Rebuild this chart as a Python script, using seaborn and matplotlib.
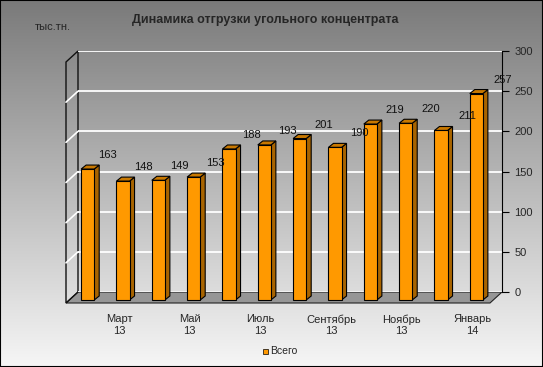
import numpy as np
import matplotlib
matplotlib.use("Agg")
import matplotlib.pyplot as plt
import matplotlib.transforms as mtransforms
from matplotlib.colors import LinearSegmentedColormap
from matplotlib.patches import Polygon, Rectangle
from matplotlib.lines import Line2D
import seaborn as sns

# data
months = ["Февраль\n13", "Март\n13", "Апрель\n13", "Май\n13", "Июнь\n13", "Июль\n13",
          "Август\n13", "Сентябрь\n13", "Октябрь\n13", "Ноябрь\n13", "Декабрь\n13", "Январь\n14"]
values = [163, 148, 149, 153, 188, 193, 201, 190, 219, 220, 211, 257]
y_ticks = [0, 50, 100, 150, 200, 250, 300]
series_name = "Всего"
title = "Динамика отгрузки угольного концентрата"
unit = "тыс.тн."

sns.set_style("white")
plt.rcParams["font.family"] = ["Liberation Sans", "DejaVu Sans"]

W, H, DPI = 543, 367, 100
fig = plt.figure(figsize=(W / DPI, H / DPI), dpi=DPI)

# gray gradient background
bg = fig.add_axes([0, 0, 1, 1], zorder=0)
grad = np.linspace(0, 1, 256).reshape(-1, 1)
cmap = LinearSegmentedColormap.from_list("bg", ["#7a7a7a", "#f6f6f6"])
bg.imshow(grad, cmap=cmap, aspect="auto", extent=[0, 1, 0, 1])
bg.axis("off")

# back wall axes (grid + right value axis)
back = fig.add_axes([78 / W, (H - 292) / H, 424 / W, 241 / H], zorder=1)
back.patch.set_alpha(0)
back.set_xlim(-0.5, 11.5)
back.set_ylim(0, 300)
back.set_yticks(y_ticks)
back.yaxis.tick_right()
back.tick_params(axis="y", length=5, width=0.8, color="black", pad=4, labelsize=8)
back.set_xticks([])
back.yaxis.grid(True, color="white", lw=1.3)
for s in ["top", "left", "bottom"]:
    back.spines[s].set_visible(False)
back.spines["right"].set_color("black")
back.spines["right"].set_linewidth(0.8)

# front plane axes (bars)
ax = fig.add_axes([66 / W, (H - 303) / H, 424 / W, 241 / H], zorder=2)
ax.patch.set_alpha(0)
sns.barplot(x=months, y=values, ax=ax, width=0.37, color="#FF9900", saturation=1,
            edgecolor="black", linewidth=0.8, zorder=3)
ax.set_xlim(-0.5, 11.5)
ax.set_ylim(0, 300)
ax.set_autoscale_on(False)
for s in ax.spines.values():
    s.set_visible(False)
ax.set_yticks([])
ax.set_xticks(range(len(months)))
ax.set_xticklabels([m if i % 2 == 1 else "" for i, m in enumerate(months)], fontsize=8)
ax.set_xticks(np.arange(-0.5, len(months), 1), minor=True)
ax.tick_params(axis="x", which="major", length=0, pad=8)
ax.tick_params(axis="x", which="minor", length=4, width=0.8, color="black")
ax.set_xlabel("")

ident = mtransforms.IdentityTransform()


def px(axes, x, y, dx=0, dy=0):
    p = axes.transData.transform((x, y))
    return (p[0] + dx, p[1] + dy)


# floor
floor = Polygon([px(ax, -0.5, 0), px(ax, 11.5, 0), px(back, 11.5, 0), px(back, -0.5, 0)],
                closed=True, transform=ident, facecolor="#969696", edgecolor="#222222",
                lw=0.8, zorder=1)
fig.add_artist(floor)

# left wall
wall = Polygon([px(ax, -0.5, 0), px(ax, -0.5, 300), px(back, -0.5, 300), px(back, -0.5, 0)],
               closed=True, transform=ident, facecolor="none", edgecolor="#111111", lw=1.0,
               zorder=1)
fig.add_artist(wall)
for yv in y_ticks[1:-1]:
    a, b = px(ax, -0.5, yv), px(back, -0.5, yv)
    fig.add_artist(Line2D([a[0], b[0]], [a[1], b[1]], transform=ident, color="white", lw=1.2,
                          zorder=1))

# 3D faces of the bars
bx, by = 4, 3
sx, sy = 5, 4
shift = ax.transData + mtransforms.Affine2D().translate(bx, by)
for p in list(ax.patches):
    p.set_transform(shift)
    x0, w, h = p.get_x(), p.get_width(), p.get_height()
    fl = px(ax, x0, h, bx, by)
    fr = px(ax, x0 + w, h, bx, by)
    br = px(ax, x0 + w, 0, bx, by)
    side = Polygon([br, fr, (fr[0] + sx, fr[1] + sy), (br[0] + sx, br[1] + sy)],
                   closed=True, transform=ident, facecolor="#A86400", edgecolor="black",
                   lw=0.8, zorder=2)
    top = Polygon([fl, fr, (fr[0] + sx, fr[1] + sy), (fl[0] + sx, fl[1] + sy)],
                  closed=True, transform=ident, facecolor="#C87800", edgecolor="black",
                  lw=0.8, zorder=2)
    fig.add_artist(side)
    fig.add_artist(top)

# data labels (Excel places them up and to the right)
for i, v in enumerate(values):
    ax.annotate(str(v), (i, v), xytext=(24 + 0.6 * i, 17), textcoords="offset pixels",
                ha="center", va="center", fontsize=8, color="#111111", zorder=5,
                annotation_clip=False)

fig.text(265 / W, 1 - 20 / H, title, ha="center", va="center", fontsize=9, fontweight="bold")
fig.text(35 / W, 1 - 27 / H, unit, ha="left", va="center", fontsize=8)

# legend
fig.add_artist(Rectangle((263 / W, 1 - 354 / H), 5 / W, 5 / H, transform=fig.transFigure,
                         facecolor="#FF9900", edgecolor="black", lw=0.5))
fig.text(270 / W, 1 - 351 / H, series_name, ha="left", va="center", fontsize=7.5)

# border
fig.add_artist(Rectangle((0, 0), 1, 1, transform=fig.transFigure, facecolor="none",
                         edgecolor="black", lw=1.5))

fig.savefig("out.png", dpi=DPI)
